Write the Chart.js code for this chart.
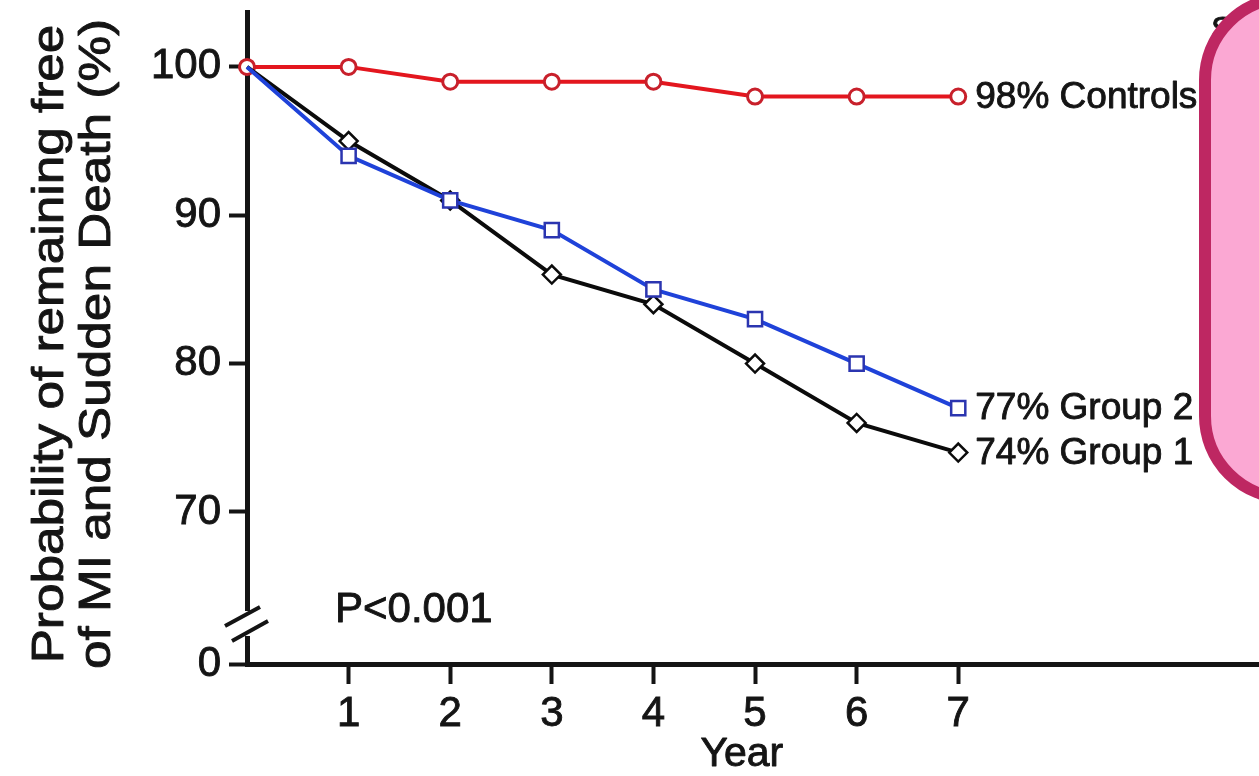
<!DOCTYPE html>
<html>
<head>
<meta charset="utf-8">
<script src="https://cdn.jsdelivr.net/npm/chart.js@4.4.1/dist/chart.umd.min.js"></script>
<style>
  html, body { margin: 0; padding: 0; background: #fff; overflow: hidden; }
  canvas { display: block; }
</style>
</head>
<body>
<canvas id="chart" width="1259" height="776"></canvas>
<script>
// Event-free survival by year of follow-up
const years = [0, 1, 2, 3, 4, 5, 6, 7];
const controls = [100, 100, 99, 99, 99, 98, 98, 98];
const group2 = [100, 94, 91, 89, 85, 83, 80, 77];
const group1 = [100, 95, 91, 86, 84, 80, 76, 74];
const seriesNames = ['Controls', 'Group 2', 'Group 1'];

// Axis ticks: the bottom y tick sits below the axis break and reads "0"
const yBreakValue = 59.75;
const yTickValues = [yBreakValue, 70, 80, 90, 100];
const yTickLabels = ['0', '70', '80', '90', '100'];
const xTickValues = [1, 2, 3, 4, 5, 6, 7];
const xTitle = 'Year';
const yTitleLines = ['Probability of remaining free', 'of MI and Sudden Death (%)'];
const pValueText = 'P<0.001';

const FONT = '"Liberation Sans", Arial, Helvetica, sans-serif';
const INK = '#141414';

function toPoints(values) {
  return years.map((x, i) => ({ x: x, y: values[i] }));
}

// text with a thin outline so it reads as heavy as the printed figure
function heavyText(ctx, text, x, y) {
  ctx.lineWidth = 0.9;
  ctx.strokeStyle = INK;
  ctx.strokeText(text, x, y);
  ctx.fillText(text, x, y);
}

// End-of-line value labels, axis titles, axis break and the overlay panel
const decorations = {
  id: 'decorations',
  afterDraw(chart) {
    const ctx = chart.ctx;
    const area = chart.chartArea;
    const xs = chart.scales.x;

    ctx.save();
    ctx.fillStyle = INK;
    ctx.lineJoin = 'round';

    // value labels at the last point of each series
    ctx.font = '37px ' + FONT;
    ctx.textBaseline = 'middle';
    ctx.textAlign = 'left';
    chart.data.datasets.forEach((ds, i) => {
      const meta = chart.getDatasetMeta(i);
      const last = meta.data[meta.data.length - 1];
      const v = ds.data[ds.data.length - 1].y;
      heavyText(ctx, v + '% ' + seriesNames[i], last.x + 17, last.y + 1);
    });

    // p-value
    ctx.font = '42px ' + FONT;
    heavyText(ctx, pValueText, area.left + 88, area.bottom - 54);

    // x axis title
    ctx.font = '41px ' + FONT;
    ctx.textAlign = 'center';
    heavyText(ctx, xTitle, xs.getPixelForValue(4.87), 755);

    // y axis title, two rotated lines drawn slightly elongated
    ctx.font = '45px ' + FONT;
    [51, 98].forEach((cx, i) => {
      ctx.save();
      ctx.translate(cx, 344);
      ctx.rotate(-Math.PI / 2);
      ctx.scale(1.14, 1);
      ctx.textAlign = 'center';
      ctx.textBaseline = 'middle';
      heavyText(ctx, yTitleLines[i], 0, 0);
      ctx.restore();
    });

    // axis break on the y axis
    const ax = area.left;
    const by = area.bottom - 40;
    ctx.fillStyle = '#fff';
    ctx.fillRect(ax - 4, by - 13, 8, 25);
    ctx.strokeStyle = INK;
    ctx.lineWidth = 4;
    ctx.lineCap = 'butt';
    ctx.beginPath();
    ctx.moveTo(ax - 22, by + 2); ctx.lineTo(ax + 13, by - 17);
    ctx.moveTo(ax - 15, by + 17); ctx.lineTo(ax + 21, by - 3);
    ctx.stroke();

    // partly hidden caption behind the panel
    ctx.fillStyle = INK;
    ctx.font = '34px ' + FONT;
    ctx.textAlign = 'left';
    ctx.textBaseline = 'alphabetic';
    heavyText(ctx, 'S', 1211, 40);

    // rounded pink panel on the right
    ctx.beginPath();
    ctx.roundRect(1205, -2, 220, 500, 82);
    ctx.fillStyle = '#fba8d3';
    ctx.fill();
    ctx.lineWidth = 12;
    ctx.strokeStyle = '#be2762';
    ctx.stroke();
    ctx.restore();
  }
};

const tickFont = { family: FONT, size: 42 };

new Chart(document.getElementById('chart'), {
  type: 'line',
  data: {
    datasets: [
      {
        label: seriesNames[0],
        data: toPoints(controls),
        borderColor: '#e3161e',
        borderWidth: 4,
        pointStyle: 'circle',
        pointRadius: 7.5,
        pointBorderWidth: 3,
        pointBorderColor: '#c8202b',
        pointBackgroundColor: '#fff',
        order: 3,
        clip: false
      },
      {
        label: seriesNames[1],
        data: toPoints(group2),
        borderColor: '#1f42d9',
        borderWidth: 4,
        pointStyle: 'rect',
        pointRadius: years.map((y, i) => i === 0 ? 0 : 10),
        pointBorderWidth: 2.5,
        pointBorderColor: '#2b35b0',
        pointBackgroundColor: '#fff',
        order: 1,
        clip: false
      },
      {
        label: seriesNames[2],
        data: toPoints(group1),
        borderColor: '#0b0b0b',
        borderWidth: 4,
        pointStyle: 'rectRot',
        pointRadius: years.map((y, i) => i === 0 ? 0 : 9),
        pointBorderWidth: 2.5,
        pointBorderColor: '#0b0b0b',
        pointBackgroundColor: '#fff',
        order: 2,
        clip: false
      }
    ]
  },
  options: {
    responsive: false,
    devicePixelRatio: 1,
    animation: false,
    layout: { autoPadding: false, padding: { top: 12, right: 0, left: 0, bottom: 0 } },
    plugins: {
      legend: { display: false },
      tooltip: { enabled: false },
      title: { display: false }
    },
    elements: { line: { tension: 0 } },
    scales: {
      x: {
        type: 'linear',
        min: 0,
        max: 9.96,
        afterBuildTicks(scale) { scale.ticks = xTickValues.map(v => ({ value: v })); },
        afterFit(scale) { scale.height = 112; scale.paddingLeft = 0; scale.paddingRight = 0; },
        border: { display: true, color: INK, width: 5 },
        grid: { display: true, drawOnChartArea: false, drawTicks: true, tickLength: 20, tickWidth: 4, tickColor: INK, color: INK },
        ticks: {
          color: INK,
          font: tickFont,
          textStrokeColor: INK,
          textStrokeWidth: 0.9,
          padding: 5,
          maxRotation: 0,
          autoSkip: false,
          callback: v => String(v)
        }
      },
      y: {
        type: 'linear',
        min: yBreakValue,
        max: 103.7,
        afterBuildTicks(scale) { scale.ticks = yTickValues.map(v => ({ value: v })); },
        afterFit(scale) { scale.width = 247; scale.paddingTop = 0; scale.paddingBottom = 0; },
        border: { display: true, color: INK, width: 5 },
        grid: { display: true, drawOnChartArea: false, drawTicks: true, tickLength: 18, tickWidth: 4, tickColor: INK, color: INK },
        ticks: {
          color: INK,
          font: tickFont,
          textStrokeColor: INK,
          textStrokeWidth: 0.9,
          padding: 8,
          autoSkip: false,
          callback: (v) => {
            const i = yTickValues.indexOf(v);
            return i >= 0 ? yTickLabels[i] : '';
          }
        }
      }
    }
  },
  plugins: [decorations]
});
</script>
</body>
</html>
